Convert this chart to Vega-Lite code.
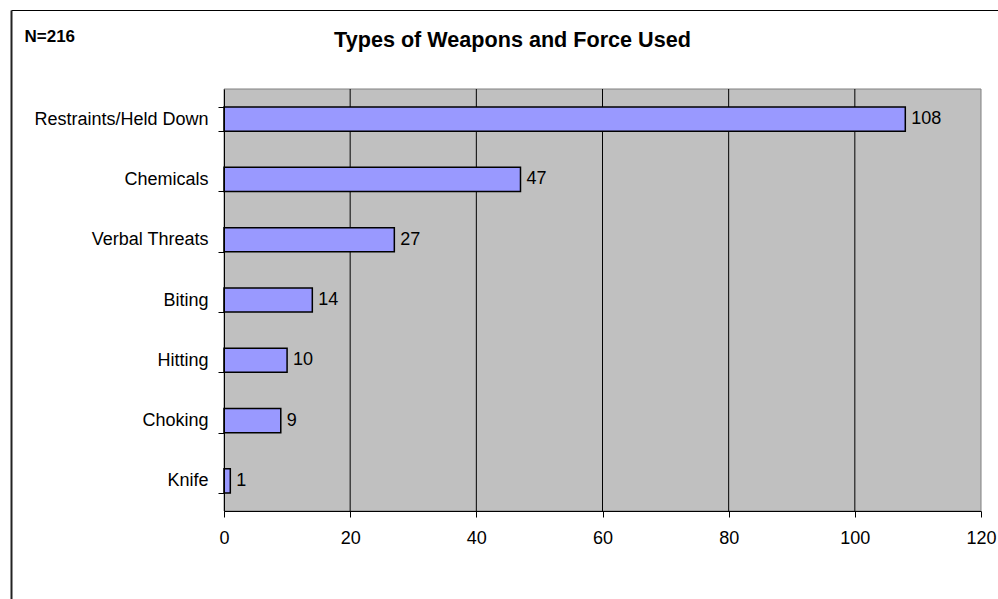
{
  "$schema": "https://vega.github.io/schema/vega-lite/v6.json",
  "width": 987,
  "height": 589,
  "autosize": {"type": "none"},
  "padding": {"left": 11, "top": 10, "right": 0, "bottom": 0},
  "background": "white",
  "config": {
    "view": {"stroke": null},
    "font": "Liberation Sans"
  },
  "title": {
    "text": "Types of Weapons and Force Used",
    "font": "Liberation Sans",
    "fontSize": 21.6,
    "fontWeight": "bold",
    "color": "black",
    "anchor": "middle",
    "baseline": "alphabetic",
    "offset": -68,
    "dx": 8
  },
  "datasets": {
    "force": [
      {"type": "Restraints/Held Down", "count": 108},
      {"type": "Chemicals", "count": 47},
      {"type": "Verbal Threats", "count": 27},
      {"type": "Biting", "count": 14},
      {"type": "Hitting", "count": 10},
      {"type": "Choking", "count": 9},
      {"type": "Knife", "count": 1}
    ],
    "grid": [{"v": 20}, {"v": 40}, {"v": 60}, {"v": 80}, {"v": 100}],
    "one": [{"f": 0}]
  },
  "resolve": {"scale": {"x": "independent", "y": "independent"}, "axis": {"x": "independent", "y": "independent"}},
  "layer": [
    {
      "data": {"name": "one"},
      "mark": {"type": "rect", "fill": "#C0C0C0", "stroke": "#808080", "strokeWidth": 1},
      "encoding": {
        "x": {"datum": 0, "type": "quantitative", "scale": {"domain": [0, 120], "range": [213, 970], "nice": false}, "axis": null},
        "x2": {"datum": 120},
        "y": {"datum": 0, "type": "quantitative", "scale": {"domain": [0, 1], "range": [501, 79], "nice": false}, "axis": null},
        "y2": {"datum": 1}
      }
    },
    {
      "data": {"name": "grid"},
      "mark": {"type": "rule", "color": "black", "strokeWidth": 1},
      "encoding": {
        "x": {"field": "v", "type": "quantitative", "scale": {"domain": [0, 120], "range": [213, 970], "nice": false}, "axis": null},
        "y": {"datum": 0, "type": "quantitative", "scale": {"domain": [0, 1], "range": [501, 79], "nice": false}, "axis": null},
        "y2": {"datum": 1}
      }
    },
    {
      "data": {"name": "force"},
      "mark": {"type": "bar", "fill": "#9999FF", "stroke": "black", "strokeWidth": 1.5},
      "encoding": {
        "y": {
          "field": "type", "type": "nominal", "sort": null,
          "scale": {"range": [79, 501], "paddingInner": 0.6, "paddingOuter": 0.3},
          "axis": {
            "orient": "left", "offset": -213, "zindex": 1,
            "domainColor": "black", "tickColor": "black", "tickSize": 6, "tickBand": "extent",
            "labelFontSize": 18, "labelColor": "black", "labelPadding": 10, "labelFont": "Liberation Sans",
            "title": "N=216", "titleAngle": 0, "titleX": -200, "titleY": 31, "titleAlign": "left",
            "titleBaseline": "alphabetic", "titleFontSize": 17, "titleFontWeight": "bold", "titleColor": "black",
            "titleFont": "Liberation Sans"
          }
        },
        "x": {
          "field": "count", "type": "quantitative",
          "scale": {"domain": [0, 120], "range": [213, 970], "nice": false},
          "axis": {
            "orient": "bottom", "offset": -88, "zindex": 1, "values": [0, 20, 40, 60, 80, 100, 120],
            "grid": false, "domainColor": "black", "tickColor": "black", "tickSize": 6,
            "labelFontSize": 18, "labelColor": "black", "labelPadding": 12, "labelFlush": false,
            "labelFont": "Liberation Sans", "title": null
          }
        }
      }
    },
    {
      "data": {"name": "force"},
      "mark": {"type": "text", "align": "left", "baseline": "middle", "dx": 6, "fontSize": 18, "color": "black", "font": "Liberation Sans"},
      "encoding": {
        "y": {"field": "type", "type": "nominal", "sort": null, "scale": {"range": [79, 501], "paddingInner": 0.6, "paddingOuter": 0.3}, "axis": null},
        "x": {"field": "count", "type": "quantitative", "scale": {"domain": [0, 120], "range": [213, 970], "nice": false}, "axis": null},
        "text": {"field": "count", "type": "quantitative"}
      }
    },
    {
      "data": {"name": "one"},
      "mark": {"type": "point", "opacity": 0},
      "encoding": {
        "x": {"datum": 0, "type": "quantitative", "scale": {"domain": [0, 1]},
          "axis": {"orient": "top", "offset": 0, "zindex": 1, "domain": true, "domainColor": "black", "domainWidth": 1, "ticks": false, "labels": false, "grid": false, "title": null}},
        "y": {"datum": 0, "type": "quantitative", "scale": {"domain": [0, 1]},
          "axis": {"orient": "left", "offset": 0, "zindex": 1, "domain": true, "domainColor": "#222", "domainWidth": 2, "ticks": false, "labels": false, "grid": false, "title": null}}
      }
    }
  ]
}
